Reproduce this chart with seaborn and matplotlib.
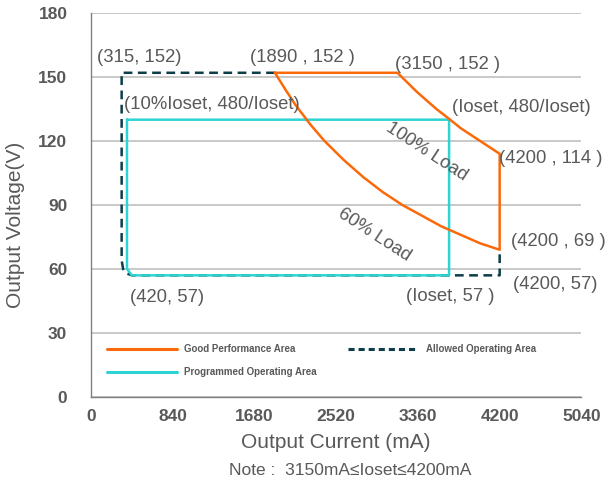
import numpy as np
import pandas as pd
import matplotlib
matplotlib.use('Agg')
import matplotlib.pyplot as plt
import seaborn as sns
from matplotlib.lines import Line2D

# dados (corrente em mA, tensao em V)
good_i = [1890, 3150, 3250, 3350, 3450, 3550, 3680, 3800, 3950, 4100, 4200,
          4200, 4000, 3800, 3600, 3400, 3200, 3000, 2800, 2600, 2400, 2250, 2100, 2000, 1890]
good_v = [152, 152, 147.5, 143, 139, 135, 130.4, 126, 121.5, 117, 114,
          69, 72, 76, 80, 85, 90, 96, 103, 111, 120, 128, 137, 144, 152]

allowed_i = [1890, 315, 315, 330, 360, 420, 4200, 4200]
allowed_v = [152, 152, 64, 60, 58, 57, 57, 69]

prog_i = [370, 3680, 3680, 420, 370, 370]
prog_v = [130, 130, 57, 57, 60, 130]

x_ticks = [0, 840, 1680, 2520, 3360, 4200, 5040]
y_ticks = [0, 30, 60, 90, 120, 150, 180]

# rotulos dos pontos: (texto, x, y)
point_labels = [
    ('(315, 152)', 62, 159),
    ('(1890 , 152 )', 1634, 159),
    ('(3150 , 152 )', 3124, 156),
    ('(10%Ioset, 480/Ioset)', 339, 137),
    ('(Ioset, 480/Ioset)', 3710, 135.5),
    ('(4200 , 114 )', 4193, 112),
    ('(4200 , 69 )', 4317, 72.7),
    ('(4200, 57)', 4337, 52.5),
    ('(420, 57)', 400, 46.4),
    ('(Ioset, 57 )', 3237, 47),
]

orange = '#fa6a0a'
cyan = '#2ed3d3'
dark = '#0d3d48'
gray = '#595959'

sns.set_theme(style='white')
plt.rcParams['font.family'] = ['Liberation Sans', 'DejaVu Sans']

fig, ax = plt.subplots(figsize=(6.05, 4.84), dpi=100)
fig.subplots_adjust(left=0.1504, right=0.961, top=0.973, bottom=0.180)

df_allowed = pd.DataFrame({'i': allowed_i, 'v': allowed_v})
df_prog = pd.DataFrame({'i': prog_i, 'v': prog_v})
df_good = pd.DataFrame({'i': good_i, 'v': good_v})

sns.lineplot(data=df_allowed, x='i', y='v', sort=False, estimator=None, ax=ax,
             color=dark, linewidth=1.8, linestyle=(0, (3.5, 2.2)))
sns.lineplot(data=df_prog, x='i', y='v', sort=False, estimator=None, ax=ax,
             color=cyan, linewidth=1.8)
sns.lineplot(data=df_good, x='i', y='v', sort=False, estimator=None, ax=ax,
             color=orange, linewidth=1.8)

ax.set_xlim(0, 5040)
ax.set_ylim(0, 180)
ax.set_xticks(x_ticks)
ax.set_yticks(y_ticks)
ax.yaxis.grid(True, color='#c0c0c0', linewidth=1.2)
ax.set_axisbelow(True)
for s in ['top', 'right']:
    ax.spines[s].set_visible(False)
for s in ['left', 'bottom']:
    ax.spines[s].set_color('#808080')
    ax.spines[s].set_linewidth(1.0)
ax.tick_params(axis='both', direction='in', length=4, width=1, color='#808080',
               labelcolor=gray, labelsize=12.5)
ax.tick_params(axis='y', pad=17)
ax.tick_params(axis='x', pad=9)
for lab in ax.get_xticklabels() + ax.get_yticklabels():
    lab.set_fontweight('bold')

ax.set_xlabel('Output Current (mA)', fontsize=15, color=gray, labelpad=6)
ax.set_ylabel('Output Voltage(V)', fontsize=15, color=gray)
ax.yaxis.set_label_coords(-0.134, 0.448)

for txt, x, y in point_labels:
    ax.text(x, y, txt, fontsize=13.3, color=gray, ha='left', va='center', clip_on=False)

ax.text(3453, 115, '100% Load', fontsize=13.3, color=gray, rotation=-33,
        rotation_mode='anchor', ha='center', va='center')
ax.text(2909, 76, '60% Load', fontsize=13.3, color=gray, rotation=-33,
        rotation_mode='anchor', ha='center', va='center')

handles = [
    Line2D([], [], color=orange, linewidth=2.2, label='Good Performance Area'),
    Line2D([], [], color=cyan, linewidth=2.2, label='Programmed Operating Area'),
    Line2D([], [], color=dark, linewidth=2.2, linestyle=(0, (2, 1.3)), label='Allowed Operating Area'),
]
leg = ax.legend(handles=handles, loc='upper left', bbox_to_anchor=(0.014, 0.16), ncol=2,
                frameon=False, prop={'size': 7, 'weight': 'bold'}, handlelength=7.2,
                columnspacing=3.2, labelspacing=1.35)
for t in leg.get_texts():
    t.set_color(gray)

fig.text(0.578, 0.027, 'Note :  3150mA\u2264Ioset\u22644200mA', fontsize=12.5, color=gray,
         ha='center', va='center')

plt.savefig('out.png', dpi=100)
